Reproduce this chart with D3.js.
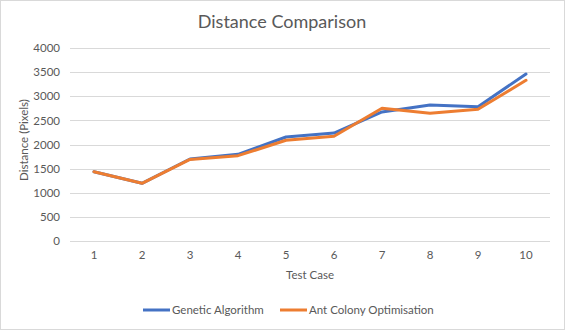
<!DOCTYPE html>
<html>
<head>
<meta charset="utf-8">
<script src="https://cdn.jsdelivr.net/npm/d3@7"></script>
<style>
  body { margin: 0; background: #fff; }
  text { font-family: Lato, "Open Sans", sans-serif; fill: #595959; }
</style>
</head>
<body>
<div id="chart"></div>
<script>
// data
var testCases = ["1", "2", "3", "4", "5", "6", "7", "8", "9", "10"];
var genetic = [1436, 1196, 1700, 1797, 2155, 2238, 2674, 2819, 2784, 3460];
var antColony = [1436, 1196, 1690, 1768, 2087, 2170, 2750, 2646, 2729, 3330];
var yTicks = [0, 500, 1000, 1500, 2000, 2500, 3000, 3500, 4000];
var seriesNames = ["Genetic Algorithm", "Ant Colony Optimisation"];

var width = 565, height = 330,
    margin = {top: 48, left: 70, right: 15, bottom: 89};

var svg = d3.select("#chart").append("svg")
    .attr("width", width)
    .attr("height", height);

// outer chart border
svg.append("rect")
    .attr("x", 0.5).attr("y", 0.5)
    .attr("width", width - 1).attr("height", height - 1)
    .attr("fill", "#fff")
    .attr("stroke", "#d9d9d9");

var x = d3.scaleBand()
    .domain(testCases)
    .range([margin.left, width - margin.right]);

var y = d3.scaleLinear()
    .domain([0, 4000])
    .range([height - margin.bottom, margin.top]);

// gridlines
svg.append("g")
    .selectAll("line")
    .data(yTicks)
    .enter().append("line")
    .attr("x1", margin.left)
    .attr("x2", width - margin.right)
    .attr("y1", function (d) { return Math.round(y(d)) + 0.5; })
    .attr("y2", function (d) { return Math.round(y(d)) + 0.5; })
    .attr("stroke", "#d9d9d9")
    .attr("stroke-width", 1);

// y axis labels
var yAxis = d3.axisLeft(y).tickValues(yTicks).tickFormat(d3.format("d")).tickSize(0).tickPadding(10);
var gy = svg.append("g")
    .attr("transform", "translate(" + margin.left + ",0)")
    .call(yAxis);
gy.select(".domain").remove();
gy.selectAll("text").style("font-size", "11.5px").attr("fill", "#595959");

// x axis labels
var xAxis = d3.axisBottom(x).tickSize(0).tickPadding(10);
var gx = svg.append("g")
    .attr("transform", "translate(0," + (height - margin.bottom) + ")")
    .call(xAxis);
gx.select(".domain").remove();
gx.selectAll("text").style("font-size", "11.5px").attr("fill", "#595959");

// title
svg.append("text")
    .attr("x", 282)
    .attr("y", 28)
    .attr("text-anchor", "middle")
    .style("font-size", "18px")
    .text("Distance Comparison");

// axis titles
svg.append("text")
    .attr("x", 310)
    .attr("y", 279)
    .attr("text-anchor", "middle")
    .style("font-size", "11.5px")
    .text("Test Case");

svg.append("text")
    .attr("transform", "translate(28,140) rotate(-90)")
    .attr("text-anchor", "middle")
    .style("font-size", "11.5px")
    .text("Distance (Pixels)");

// lines
var line = d3.line()
    .x(function (d, i) { return x(testCases[i]) + x.bandwidth() / 2; })
    .y(function (d) { return y(d); });

var colors = ["#4472c4", "#ed7d31"];
[genetic, antColony].forEach(function (s, i) {
    svg.append("path")
        .datum(s)
        .attr("fill", "none")
        .attr("stroke", colors[i])
        .attr("stroke-width", 3)
        .attr("stroke-linejoin", "round")
        .attr("stroke-linecap", "round")
        .attr("d", line);
});

// legend
var legendX = [143, 280];
var legend = svg.append("g").selectAll("g")
    .data(seriesNames)
    .enter().append("g")
    .attr("transform", function (d, i) { return "translate(" + legendX[i] + ",310)"; });

legend.append("line")
    .attr("x1", 0).attr("x2", 27)
    .attr("stroke", function (d, i) { return colors[i]; })
    .attr("stroke-width", 3);

legend.append("text")
    .attr("x", 29)
    .attr("dy", "0.35em")
    .style("font-size", "11.5px")
    .text(function (d) { return d; });
</script>
</body>
</html>
